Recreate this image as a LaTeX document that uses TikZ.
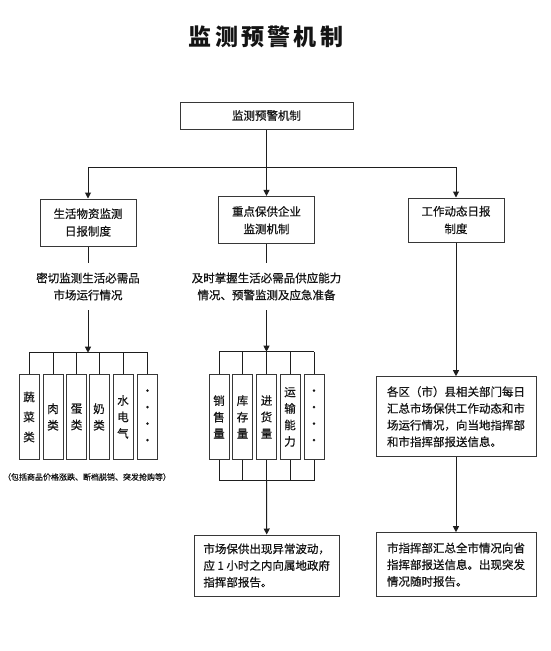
\documentclass[tikz,border=0pt]{standalone}
\usepackage{fontspec}
\setmainfont[FakeBold=0.6]{Noto Sans CJK SC}
\newfontfamily\titlefont[LetterSpace=14]{Noto Sans CJK SC}
\usetikzlibrary{arrows.meta}
\definecolor{linec}{RGB}{30,30,30}
\definecolor{boxc}{RGB}{55,55,55}
\definecolor{txtc}{RGB}{20,20,20}
\begin{document}
\begin{tikzpicture}[x=1pt,y=-1pt,
  line/.style={draw=linec, line width=1pt},
  arr/.style={line, -{Triangle[width=6pt,length=6pt]}},
  box/.style={draw=boxc, line width=1pt, fill=white, inner sep=0pt, align=center, text=txtc, font=\fontsize{11.5}{17.5}\selectfont},
  cell/.style={box, minimum width=20pt, minimum height=85pt, font=\fontsize{11.5}{16.5}\selectfont},
  plain/.style={inner sep=0pt, align=center, text=txtc, font=\fontsize{11.5}{17}\selectfont},
  para/.style={box, align=left, font=\fontsize{11.5}{16.7}\selectfont}
]
\useasboundingbox[fill=white] (0,0) rectangle (550,651);

% title
\node[plain, font=\titlefont\fontsize{23}{26}\bfseries] (title) at (266,37) {监测预警机制};

% level 1
\node[box, minimum width=173pt, minimum height=27pt] (top) at (266.5,115.5) {监测预警机制};

% level 2
\node[box, minimum width=96pt, minimum height=47pt] (lb) at (88,222.5) {生活物资监测\\日报制度};
\node[box, minimum width=96pt, minimum height=47.5pt] (mb) at (266.5,220.2) {重点保供企业\\监测机制};
\node[box, minimum width=96pt, minimum height=44pt] (rb) at (456,220) {工作动态日报\\制度};

\coordinate (hb) at (266.5,167.7);
\draw[arr] (top.south) -- (mb.north);
\draw[arr] (hb) -| (lb.north);
\draw[arr] (hb) -| (rb.north);

% left column
\node[plain, minimum height=47pt] (lt) at (88,286.5) {密切监测生活必需品\\市场运行情况};
\draw[line] (lb.south) -- (lt.north);
\coordinate (lbar) at (88,352.7);
\draw[arr] (lt.south) -- (lbar);

\node[cell, font=\fontsize{11.5}{20}\selectfont] (l1) at (29,417) {蔬\\菜\\类};
\node[cell] (l2) at (53,417) {肉\\类};
\node[cell] (l3) at (76.5,417) {蛋\\类};
\node[cell] (l4) at (99,417) {奶\\类};
\node[cell] (l5) at (123,417) {水\\电\\气};
\node[cell] (l6) at (147.5,417) {·\\·\\·\\·};
\draw[line] (l1.north |- lbar) -- (l6.north |- lbar);
\foreach \n in {l1,l2,l3,l4,l5,l6} \draw[line] (\n.north) -- (\n.north |- lbar);

\node[plain, font=\fontsize{8}{10}\selectfont] (cap) at (87,477) {（包括商品价格涨跌、断档脱销、突发抢购等）};

% middle column
\node[plain, minimum height=47pt] (mt) at (266.5,286.5) {及时掌握生活必需品供应能力\\情况、预警监测及应急准备};
\draw[line] (mb.south) -- (mt.north);
\coordinate (mbar) at (266.5,351.7);
\draw[arr] (mt.south) -- (mbar);

\node[cell] (m1) at (219,417) {销\\售\\量};
\node[cell] (m2) at (242.5,417) {库\\存\\量};
\node[cell] (m3) at (266.5,417) {进\\货\\量};
\node[cell] (m4) at (290,417) {运\\输\\能\\力};
\node[cell] (m5) at (314,417) {·\\·\\·\\·};
\draw[line] (m1.north |- mbar) -- (m5.north |- mbar);
\foreach \n in {m1,m2,m3,m4,m5} \draw[line] (\n.north) -- (\n.north |- mbar);

\coordinate (mbar2) at (266.5,480.7);
\draw[line] (m1.south |- mbar2) -- (m5.south |- mbar2);
\foreach \n in {m1,m2,m3,m4,m5} \draw[line] (\n.south) -- (\n.south |- mbar2);

\node[para, minimum width=145pt, minimum height=61pt] (mrep) at (266.7,565.5) {市场保供出现异常波动，\\应 1 小时之内向属地政府\\指挥部报告。};
\draw[arr] (mbar2) -- (mrep.north);

% right column
\node[para, minimum width=160pt, minimum height=80pt] (r1) at (456,416.7) {各区（市）县相关部门每日\\汇总市场保供工作动态和市\\场运行情况，向当地指挥部\\和市指挥部报送信息。};
\node[para, minimum width=160pt, minimum height=64pt] (r2) at (456,564.7) {市指挥部汇总全市情况向省\\指挥部报送信息。出现突发\\情况随时报告。};
\draw[arr] (rb.south) -- (r1.north);
\draw[arr] (r1.south) -- (r2.north);
\end{tikzpicture}
\end{document}
